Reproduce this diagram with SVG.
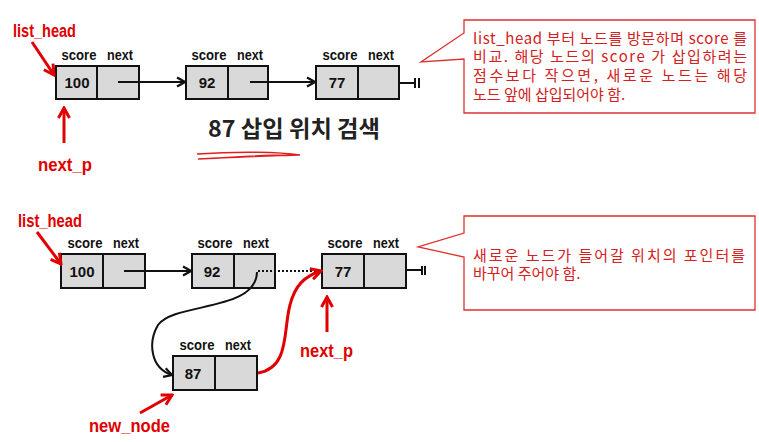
<svg xmlns="http://www.w3.org/2000/svg" width="759" height="442" viewBox="0 0 759 442">
<defs>
<style>
.cell{fill:#d9d9d9;stroke:#111;stroke-width:2}
.div{stroke:#111;stroke-width:2}
.lbl{font-family:"Liberation Sans",Arial,sans-serif;font-weight:bold;font-size:15px;fill:#111;text-anchor:middle}
.val{font-family:"Liberation Sans",Arial,sans-serif;font-weight:bold;font-size:15px;fill:#111;text-anchor:middle}
.red{font-family:"Liberation Sans",Arial,sans-serif;font-weight:bold;font-size:18px;fill:#e00000}
.blk{fill:none;stroke:#111;stroke-width:2}
.rl{fill:none;stroke:#e00000;stroke-width:3}
.call{fill:#fff;stroke:#e03030;stroke-width:1.3}
.ct{font-family:"Noto Sans CJK KR","Noto Sans",sans-serif;font-size:15px;fill:#d42020}
.term{fill:none;stroke:#111;stroke-width:2}
</style>
<marker id="ab" markerWidth="12" markerHeight="12" refX="10" refY="6" orient="auto" markerUnits="userSpaceOnUse">
<path d="M2,1.5 L10,6 L2,10.5" fill="none" stroke="#111" stroke-width="2.2"/>
</marker>
<marker id="ar" markerWidth="14" markerHeight="14" refX="12" refY="7" orient="auto" markerUnits="userSpaceOnUse">
<path d="M2,1.5 L12,7 L2,12.5" fill="none" stroke="#e00000" stroke-width="3"/>
</marker>
</defs>
<rect width="759" height="442" fill="#fff"/>

<!-- Top row -->
<g id="t-node100">
<text class="lbl" x="79" y="60" textLength="35" lengthAdjust="spacingAndGlyphs">score</text><text class="lbl" x="120" y="60" textLength="26" lengthAdjust="spacingAndGlyphs">next</text>
<rect class="cell" x="56" y="66" width="83" height="33"/><line class="div" x1="97" y1="66" x2="97" y2="99"/>
<text class="val" x="77" y="88">100</text>
</g>
<g id="t-node92">
<text class="lbl" x="209" y="60" textLength="35" lengthAdjust="spacingAndGlyphs">score</text><text class="lbl" x="250" y="60" textLength="26" lengthAdjust="spacingAndGlyphs">next</text>
<rect class="cell" x="186" y="66" width="82" height="33"/><line class="div" x1="228" y1="66" x2="228" y2="99"/>
<text class="val" x="207" y="88">92</text>
</g>
<g id="t-node77">
<text class="lbl" x="340" y="60" textLength="35" lengthAdjust="spacingAndGlyphs">score</text><text class="lbl" x="381" y="60" textLength="26" lengthAdjust="spacingAndGlyphs">next</text>
<rect class="cell" x="316" y="66" width="83" height="33"/><line class="div" x1="358" y1="66" x2="358" y2="99"/>
<text class="val" x="337" y="88">77</text>
<path class="term" d="M399,83 H415 M415,78 V88 M419,78 V88"/>
</g>
<g id="t-list_head">
<text class="red" x="13" y="37" textLength="63" lengthAdjust="spacingAndGlyphs">list_head</text>
</g>
<g id="t-next_p">
<text class="red" x="38" y="171" textLength="54" lengthAdjust="spacingAndGlyphs">next_p</text>
</g>
<g id="t-title">
<text x="208" y="137" font-family="'Noto Sans CJK KR','Noto Sans',sans-serif" font-weight="bold" font-size="23" fill="#222" textLength="172" lengthAdjust="spacingAndGlyphs">87 삽입 위치 검색</text>
<path d="M197,154 C240,151 280,152 300,155 C270,156 230,157 198,159 C230,157 260,155 290,155" fill="none" stroke="#e02020" stroke-width="1.4"/>
</g>
<g id="t-callout">
<path class="call" d="M464,20 H755 V113 H464 V59 L421,62 L464,33 Z"/>
<text class="ct"><tspan x="473" y="44" textLength="274" lengthAdjust="spacing">list_head 부터 노드를 방문하며 score 를</tspan><tspan x="473" y="62" textLength="274" lengthAdjust="spacing">비교. 해당 노드의 score 가 삽입하려는</tspan><tspan x="473" y="81" textLength="274" lengthAdjust="spacing">점수보다 작으면, 새로운 노드는 해당</tspan><tspan x="473" y="100">노드 앞에 삽입되어야 함.</tspan></text>
</g>

<!-- Bottom row -->
<g id="b-node100">
<text class="lbl" x="85" y="248" textLength="35" lengthAdjust="spacingAndGlyphs">score</text><text class="lbl" x="126" y="248" textLength="26" lengthAdjust="spacingAndGlyphs">next</text>
<rect class="cell" x="61" y="254" width="84" height="34"/><line class="div" x1="103" y1="254" x2="103" y2="288"/>
<text class="val" x="82" y="277">100</text>
</g>
<g id="b-node92">
<text class="lbl" x="215" y="248" textLength="35" lengthAdjust="spacingAndGlyphs">score</text><text class="lbl" x="256" y="248" textLength="26" lengthAdjust="spacingAndGlyphs">next</text>
<rect class="cell" x="192" y="254" width="83" height="34"/><line class="div" x1="234" y1="254" x2="234" y2="288"/>
<text class="val" x="212" y="277">92</text>
</g>
<g id="b-node77">
<text class="lbl" x="345" y="248" textLength="35" lengthAdjust="spacingAndGlyphs">score</text><text class="lbl" x="386" y="248" textLength="26" lengthAdjust="spacingAndGlyphs">next</text>
<rect class="cell" x="322" y="254" width="84" height="34"/><line class="div" x1="364" y1="254" x2="364" y2="288"/>
<text class="val" x="343" y="277">77</text>
<path class="term" d="M406,270 H422 M422,266 V275 M425,266 V275"/>
</g>
<g id="b-node87">
<text class="lbl" x="197" y="350" textLength="35" lengthAdjust="spacingAndGlyphs">score</text><text class="lbl" x="238" y="350" textLength="26" lengthAdjust="spacingAndGlyphs">next</text>
<rect class="cell" x="173" y="356" width="84" height="34"/><line class="div" x1="215" y1="356" x2="215" y2="390"/>
<text class="val" x="193" y="379">87</text>
</g>
<g id="b-list_head">
<text class="red" x="18" y="227" textLength="64" lengthAdjust="spacingAndGlyphs">list_head</text>
</g>
<g id="b-next_p">
<text class="red" x="300" y="357" textLength="53" lengthAdjust="spacingAndGlyphs">next_p</text>
</g>
<g id="b-new_node">
<text class="red" x="89" y="432" textLength="81" lengthAdjust="spacingAndGlyphs">new_node</text>
</g>
<g id="b-callout">
<path class="call" d="M464,216 H755 V310 H464 V257 L418,247 L464,233 Z"/>
<text class="ct"><tspan x="473" y="261" textLength="272" lengthAdjust="spacing">새로운 노드가 들어갈 위치의 포인터를</tspan><tspan x="473" y="279">바꾸어 주어야 함.</tspan></text>
</g>

<g id="connectors">
<line class="blk" x1="118" y1="82" x2="185" y2="82" marker-end="url(#ab)"/>
<line class="blk" x1="250" y1="82" x2="315" y2="82" marker-end="url(#ab)"/>
<line class="rl" x1="32" y1="42" x2="54" y2="75" marker-end="url(#ar)"/>
<line class="rl" x1="64" y1="143" x2="64" y2="108" marker-end="url(#ar)"/>

<line class="blk" x1="124" y1="271" x2="191" y2="271" marker-end="url(#ab)"/>
<line x1="258" y1="271" x2="318" y2="271" stroke="#111" stroke-width="2" stroke-dasharray="2,2"/>
<path class="blk" d="M257,272 C256,312 175,302 158,325 C148,342 150,368 172,375" marker-end="url(#ab)"/>
<path class="rl" d="M258,373 C290,368 283,330 290,305 C295,285 305,276 321,271" marker-end="url(#ar)"/>
<line class="rl" x1="37" y1="232" x2="61" y2="264" marker-end="url(#ar)"/>
<line class="rl" x1="327" y1="332" x2="327" y2="297" marker-end="url(#ar)"/>
<line class="rl" x1="140" y1="413" x2="172" y2="395" marker-end="url(#ar)"/>
</g>
</svg>
